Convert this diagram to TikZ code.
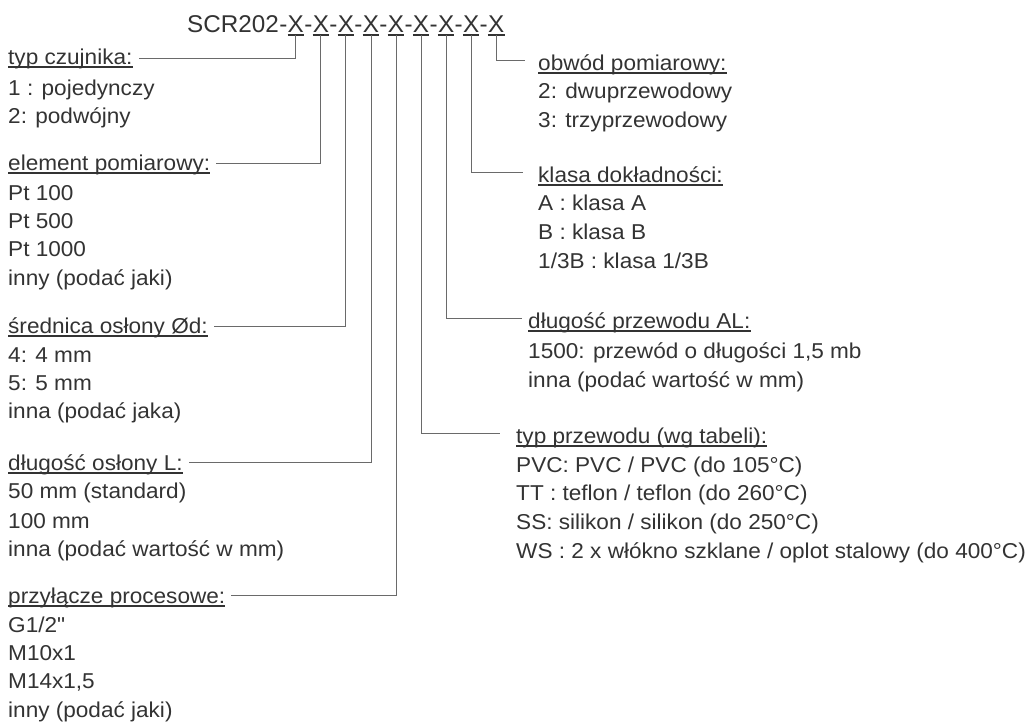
\documentclass[tikz,border=0pt]{standalone}
\usepackage{fontspec}
\setmainfont{Liberation Sans}
\newfontfamily\bodyfont[FakeStretch=1.05]{Liberation Sans}
\usetikzlibrary{calc}
\definecolor{txtc}{HTML}{333333}
\definecolor{linec}{HTML}{6A6A6A}
\begin{document}
\begin{tikzpicture}[x=1pt,y=-1pt,
  txt/.style={anchor=base west, inner sep=0pt, font=\bodyfont\fontsize{21.5}{25}\selectfont, text=txtc},
  ttl/.style={anchor=base west, inner sep=0pt, font=\fontsize{24.25}{30}\selectfont, text=txtc},
  conn/.style={draw=linec, line width=0.9pt},
  ul/.style={draw=txtc, line width=1.4pt}]
\useasboundingbox[fill=white] (0,0) rectangle (1032,726);
% title
\node[ttl] (x0) at (187,32) {SCR202};
\foreach \i [remember=\i as \j (initially 0)] in {1,...,9} {
  \node[ttl] (d\i) at (x\j.base east) {-};
  \node[ttl] (x\i) at (d\i.base east) {X};
  \draw[ul] ([yshift=-3pt]x\i.base west) -- ([yshift=-3pt]x\i.base east);
}
% left headers
\node[txt] (h1) at (8,64) {typ czujnika:};
\node[txt] (h2) at (8,170) {element pomiarowy:};
\node[txt] (h3) at (8,333) {średnica osłony Ød:};
\node[txt] (h4) at (8,470) {długość osłony L:};
\node[txt] (h5) at (8,603) {przyłącze procesowe:};
% right headers
\node[txt] (r1) at (538,70) {obwód pomiarowy:};
\node[txt] (r2) at (538,182) {klasa dokładności:};
\node[txt] (r3) at (528,328) {długość przewodu AL:};
\node[txt] (r4) at (516,443) {typ przewodu (wg tabeli):};
\foreach \n in {h1,h2,h3,h4,h5,r1,r2,r3,r4}
  \draw[ul] ([yshift=-3pt]\n.base west) -- ([yshift=-3pt]\n.base east);
% left items
\node[txt] (a1) at (8,95) {1 : pojedynczy};
\node[txt] (a2) at (8,123) {2: podwójny};
\node[txt] (b1) at (8,200) {Pt 100};
\node[txt] (b2) at (8,228) {Pt 500};
\node[txt] (b3) at (8,256) {Pt 1000};
\node[txt] (b4) at (8,285) {inny (podać jaki)};
\node[txt] (c1) at (8,362) {4: 4 mm};
\node[txt] (c2) at (8,390) {5: 5 mm};
\node[txt] (c3) at (8,418) {inna (podać jaka)};
\node[txt] (e1) at (8,498) {50 mm (standard)};
\node[txt] (e2) at (8,528) {100 mm};
\node[txt] (e3) at (8,556) {inna (podać wartość w mm)};
\node[txt] (f1) at (8,632) {G1/2"};
\node[txt] (f2) at (8,660) {M10x1};
\node[txt] (f3) at (8,688) {M14x1,5};
\node[txt] (f4) at (8,717) {inny (podać jaki)};
% right items
\node[txt] (p1) at (538,98) {2: dwuprzewodowy};
\node[txt] (p2) at (538,127) {3: trzyprzewodowy};
\node[txt] (q1) at (538,210) {A : klasa A};
\node[txt] (q2) at (538,239) {B : klasa B};
\node[txt] (q3) at (538,268) {1/3B : klasa 1/3B};
\node[txt] (s1) at (528,358) {1500: przewód o długości 1,5 mb};
\node[txt] (s2) at (528,387) {inna (podać wartość w mm)};
\node[txt] (w1) at (516,472) {PVC: PVC / PVC (do 105°C)};
\node[txt] (w2) at (516,500) {TT : teflon / teflon (do 260°C)};
\node[txt] (w3) at (516,529) {SS: silikon / silikon (do 250°C)};
\node[txt] (w4) at (516,558) {WS : 2 x włókno szklane / oplot stalowy (do 400°C)};
% connectors
\draw[conn] ([yshift=-3pt]x1.base) |- ($(h1.base east)+(6pt,6pt)$);
\draw[conn] ([yshift=-3pt]x2.base) |- ($(h2.base east)+(6pt,7pt)$);
\draw[conn] ([yshift=-3pt]x3.base) |- ($(h3.base east)+(6pt,7pt)$);
\draw[conn] ([yshift=-3pt]x4.base) |- ($(h4.base east)+(6pt,8pt)$);
\draw[conn] ([yshift=-3pt]x5.base) |- ($(h5.base east)+(6pt,8pt)$);
\draw[conn] ([yshift=-3pt]x9.base) |- ($(r1.base west)+(-13pt,10pt)$);
\draw[conn] ([yshift=-3pt]x8.base) |- ($(r2.base west)+(-15pt,10pt)$);
\draw[conn] ([yshift=-3pt]x7.base) |- ($(r3.base west)+(-6pt,10pt)$);
\draw[conn] ([yshift=-3pt]x6.base) |- ($(r4.base west)+(-16pt,10pt)$);
\end{tikzpicture}
\end{document}
